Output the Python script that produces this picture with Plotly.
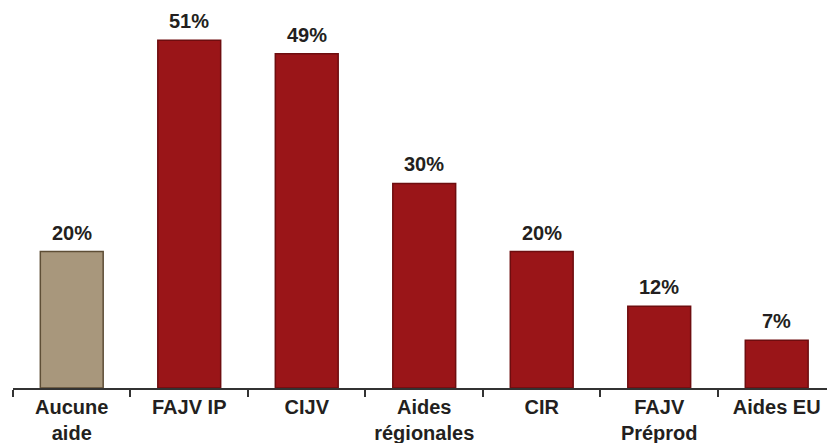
import plotly.graph_objects as go

categories = ["Aucune<br>aide", "FAJV IP", "CIJV", "Aides<br>régionales", "CIR", "FAJV<br>Préprod", "Aides EU"]
values = [20, 51, 49, 30, 20, 12, 7]
labels = ["20%", "51%", "49%", "30%", "20%", "12%", "7%"]
colors = ["#A8977C"] + ["#9A1518"] * 6
borders = ["#5E4E36"] + ["#6E0D0F"] * 6

FONT = "Liberation Sans, Arial"

fig = go.Figure()
fig.add_trace(go.Bar(
    x=categories, y=values,
    marker=dict(color=colors, line=dict(color=borders, width=1.5)),
    width=0.535,
    hoverinfo="skip",
))
for c, v, t in zip(categories, values, labels):
    fig.add_annotation(x=c, y=v, text="<b>" + t + "</b>", showarrow=False,
                       yanchor="bottom", yshift=6,
                       font=dict(family=FONT, size=20, color="#231F20"))

fig.update_layout(
    width=827, height=443,
    margin=dict(l=13, r=0, t=0, b=55),
    paper_bgcolor="white", plot_bgcolor="white",
    showlegend=False,
    xaxis=dict(
        range=[-0.5, 6.428],
        tickson="boundaries", ticks="outside", ticklen=7, tickwidth=2, tickcolor="#333333",
        showline=True, linecolor="#333333", linewidth=2,
        showgrid=False, zeroline=False,
        tickfont=dict(family=FONT, size=20, color="#231F20"),
        tickprefix="<b>", ticksuffix="</b>",
    ),
    yaxis=dict(range=[0, 56.9], visible=False, showgrid=False, zeroline=False),
)
fig.write_html("out.html")
